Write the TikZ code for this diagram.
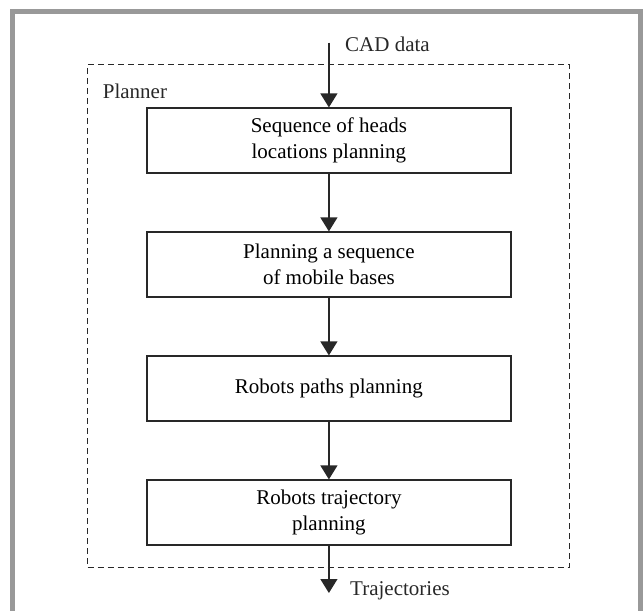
\documentclass[tikz,border=0pt]{standalone}
\usepackage{fontspec}
\setmainfont{Liberation Serif}
\usetikzlibrary{arrows.meta}
\definecolor{framegray}{RGB}{153,153,153}
\definecolor{ink}{RGB}{40,40,40}
\begin{document}
\begin{tikzpicture}[x=1pt,y=-1pt,
  stepbox/.style={draw=ink, line width=1.2pt, minimum width=364pt, minimum height=65pt,
    align=center, font=\fontsize{21}{26}\selectfont, inner sep=0pt},
  flow/.style={draw=ink, line width=1.2pt, -{Triangle[length=14pt,width=17pt]}},
  lbl/.style={font=\fontsize{21}{26}\selectfont, inner sep=0pt, text=ink}]
\useasboundingbox (0,0) rectangle (644,610);
\draw[framegray, line width=5pt] (12.5,660) -- (12.5,11.5) -- (640.5,11.5) -- (640.5,660);
\node (planner) [draw=ink, line width=1pt, dash pattern=on 6pt off 4pt,
  minimum width=481.5pt, minimum height=503pt, inner sep=0pt] at (328.25,315.5) {};
\node (plannerlbl) [lbl, anchor=base west] at (102.7,98) {Planner};
\node (b1) [stepbox] at (328.9,140.5) {Sequence of heads\\locations planning};
\node (b2) [stepbox] at (328.9,264.5) {Planning a sequence\\of mobile bases};
\node (b3) [stepbox] at (328.9,388.5) {Robots paths planning};
\node (b4) [stepbox] at (328.9,512.5) {Robots trajectory\\planning};
\coordinate (cadstart) at (328.9,42.7);
\coordinate (trajend) at (328.9,593);
\node (cad) [lbl, anchor=base west] at (345,52) {CAD data};
\node (traj) [lbl, anchor=base west] at (350,595) {Trajectories};
\draw[flow] (cadstart) -- (b1.north);
\draw[flow] (b1.south) -- (b2.north);
\draw[flow] (b2.south) -- (b3.north);
\draw[flow] (b3.south) -- (b4.north);
\draw[flow] (b4.south) -- (trajend);
\end{tikzpicture}
\end{document}
